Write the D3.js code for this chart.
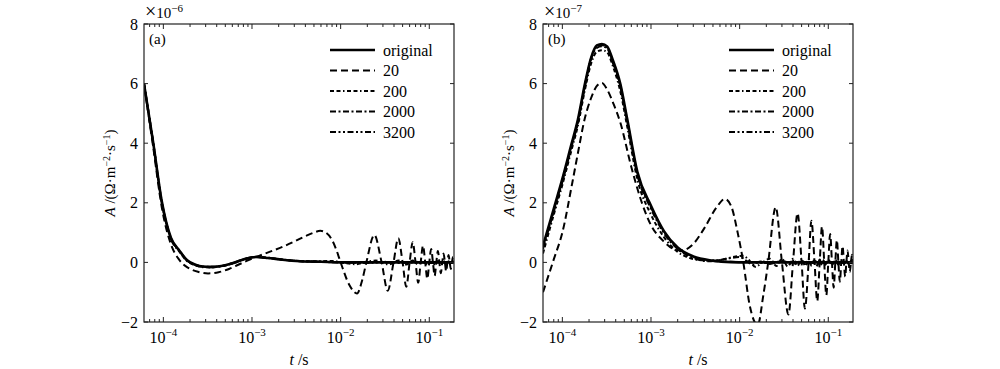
<!DOCTYPE html>
<html><head><meta charset="utf-8">
<script src="https://cdn.jsdelivr.net/npm/d3@7"></script>
<style>
body{margin:0;background:#fff}
text{font-family:"Liberation Serif","Times New Roman",serif;fill:#000}
</style>
</head><body><svg id="c" width="1000" height="369"></svg>
<script>
// ---------- data ----------
const seriesNames = ["original", "20", "200", "2000", "3200"];
const xTickValues = [1e-4, 1e-3, 1e-2, 1e-1];
const xTickExponents = ["−4", "−3", "−2", "−1"];
const yTickValues = [-2, 0, 2, 4, 6, 8];
const yTickLabels = ["−2", "0", "2", "4", "6", "8"];
const panelLabels = ["(a)", "(b)"];
const multiplierExponents = ["−6", "−7"];
const xDomain = [6.05e-5, 0.19];
const yDomain = [-2, 8];

// panel (a), units of 1e-6
const aOriginal = [[6.05e-5,6.0],[7.7e-5,4.0],[9.6e-5,2.05],[1.22e-4,0.82],[1.5e-4,0.42],[1.84e-4,0.08],[2.3e-4,-0.08],[2.8e-4,-0.14],[3.4e-4,-0.15],[4.5e-4,-0.12],[6e-4,-0.03],[8e-4,0.1],[1.1e-3,0.18],[1.5e-3,0.15],[2.2e-3,0.09],[3.5e-3,0.04],[6e-3,0.02],[1e-2,0.0],[0.19,0.0]];
const a20 = [[6.05e-5,6.0],[7.7e-5,3.85],[9.6e-5,1.85],[1.22e-4,0.6],[1.5e-4,0.1],[1.9e-4,-0.18],[2.5e-4,-0.32],[3.2e-4,-0.37],[4.2e-4,-0.33],[5.5e-4,-0.22],[7e-4,-0.08],[9e-4,0.07],[1.2e-3,0.22],[1.6e-3,0.36],[2.2e-3,0.52],[3e-3,0.7],[4e-3,0.88],[5e-3,1.0],[5.9e-3,1.06],[6.8e-3,1.0],[8e-3,0.75],[9e-3,0.4],[1e-2,0.0],[1.25e-2,-0.75],[1.53e-2,-1.04],[1.75e-2,-0.6],[1.95e-2,0.0],[2.4e-2,0.92],[2.9e-2,0.0],[3.4e-2,-0.95],[3.95e-2,0.0],[4.47e-2,0.81],[5e-2,0.0],[5.5e-2,-0.82],[6e-2,0.0],[6.5e-2,0.68],[7e-2,0.0],[7.5e-2,-0.68],[8e-2,0.0],[8.5e-2,0.56],[9e-2,0.0],[9.5e-2,-0.55],[0.1,0.0],[0.105,0.45],[0.11,0.0],[0.115,-0.45],[0.12,0.0],[0.125,0.38],[0.13,0.0],[0.135,-0.36],[0.14,0.0],[0.145,0.3],[0.15,0.0],[0.155,-0.3],[0.16,0.0],[0.165,0.25],[0.17,0.0],[0.175,-0.22],[0.18,0.0],[0.185,0.18],[0.19,0.0]];
const a200 = [[6.05e-5,5.95],[7.7e-5,3.95],[9.6e-5,2.0],[1.22e-4,0.78],[1.5e-4,0.38],[1.84e-4,0.05],[2.3e-4,-0.1],[2.8e-4,-0.16],[3.4e-4,-0.17],[4.5e-4,-0.13],[6e-4,-0.04],[8e-4,0.1],[1.1e-3,0.19],[1.5e-3,0.16],[2.2e-3,0.1],[3.5e-3,0.05],[6e-3,0.04],[8e-3,0.05],[1.1e-2,-0.02],[1.5e-2,-0.06],[2e-2,0.03],[2.5e-2,0.06],[3e-2,-0.02],[3.5e-2,-0.07],[4.5e-2,0.06],[5.5e-2,-0.07],[6.5e-2,0.06],[7.5e-2,-0.07],[8.5e-2,0.06],[9.5e-2,-0.06],[0.105,0.05],[0.115,-0.06],[0.125,0.05],[0.135,-0.05],[0.145,0.05],[0.155,-0.05],[0.165,0.04],[0.175,-0.04],[0.185,0.03],[0.19,0.0]];
const a2000 = [[6.05e-5,6.0],[7.7e-5,4.0],[9.6e-5,2.02],[1.22e-4,0.8],[1.5e-4,0.4],[1.84e-4,0.07],[2.3e-4,-0.09],[2.8e-4,-0.15],[3.4e-4,-0.16],[4.5e-4,-0.12],[6e-4,-0.03],[8e-4,0.1],[1.1e-3,0.18],[1.5e-3,0.15],[2.2e-3,0.09],[3.5e-3,0.04],[6e-3,0.02],[1e-2,0.01],[2e-2,-0.02],[3e-2,0.02],[5e-2,-0.02],[7e-2,0.02],[0.1,-0.02],[0.13,0.02],[0.16,-0.02],[0.19,0.0]];
const a3200 = [[6.05e-5,6.0],[7.7e-5,4.0],[9.6e-5,2.04],[1.22e-4,0.81],[1.5e-4,0.41],[1.84e-4,0.08],[2.3e-4,-0.08],[2.8e-4,-0.14],[3.4e-4,-0.15],[4.5e-4,-0.12],[6e-4,-0.03],[8e-4,0.1],[1.1e-3,0.18],[1.5e-3,0.15],[2.2e-3,0.09],[3.5e-3,0.04],[6e-3,0.02],[1e-2,0.0],[0.19,0.0]];

// panel (b), units of 1e-7
const bOriginal = [[6.05e-5,0.55],[8e-5,1.8],[1e-4,2.8],[1.25e-4,3.9],[1.5e-4,4.8],[1.8e-4,6.0],[2.1e-4,6.85],[2.45e-4,7.28],[2.8e-4,7.33],[3.2e-4,7.25],[3.7e-4,6.8],[4.5e-4,6.0],[5.4e-4,4.8],[7e-4,3.05],[1e-3,1.9],[1.4e-3,1.05],[2e-3,0.5],[3e-3,0.2],[5e-3,0.06],[8e-3,0.01],[1.2e-2,0.0],[0.19,0.0]];
const b20 = [[6.05e-5,-1.0],[8e-5,0.1],[1e-4,1.0],[1.3e-4,2.7],[1.55e-4,3.9],[1.75e-4,4.7],[2.1e-4,5.5],[2.5e-4,5.95],[2.8e-4,6.02],[3.2e-4,5.8],[3.8e-4,5.3],[4.5e-4,4.7],[6e-4,3.2],[8e-4,1.95],[1e-3,1.25],[1.4e-3,0.7],[1.8e-3,0.45],[2.2e-3,0.4],[3e-3,0.62],[4e-3,1.15],[5.5e-3,1.85],[6.8e-3,2.13],[8e-3,1.9],[9.5e-3,1.0],[1.1e-2,0.0],[1.3e-2,-1.45],[1.6e-2,-2.1],[1.85e-2,-1.1],[2.1e-2,0.0],[2.55e-2,1.85],[3e-2,0.0],[3.55e-2,-1.75],[4e-2,0.0],[4.5e-2,1.65],[5e-2,0.0],[5.45e-2,-1.55],[6e-2,0.0],[6.45e-2,1.4],[7e-2,0.0],[7.5e-2,-1.3],[8e-2,0.0],[8.5e-2,1.2],[9e-2,0.0],[9.5e-2,-1.1],[0.1,0.0],[0.105,0.95],[0.11,0.0],[0.115,-0.85],[0.12,0.0],[0.125,0.75],[0.13,0.0],[0.135,-0.65],[0.14,0.0],[0.145,0.55],[0.15,0.0],[0.155,-0.48],[0.16,0.0],[0.165,0.4],[0.17,0.0],[0.175,-0.32],[0.18,0.0],[0.185,0.26],[0.19,0.0]];
const b200 = [[6.05e-5,0.3],[8e-5,1.6],[1e-4,2.6],[1.25e-4,3.7],[1.5e-4,4.6],[1.8e-4,5.8],[2.1e-4,6.65],[2.45e-4,7.07],[2.8e-4,7.12],[3.2e-4,7.05],[3.7e-4,6.6],[4.5e-4,5.75],[5.4e-4,4.55],[7e-4,2.8],[1e-3,1.6],[1.4e-3,0.85],[2e-3,0.35],[2.6e-3,0.17],[3.5e-3,0.08],[5e-3,0.06],[7e-3,0.12],[9e-3,0.2],[1.1e-2,0.22],[1.3e-2,0.05],[1.5e-2,-0.15],[1.8e-2,0.0],[2.2e-2,0.12],[2.6e-2,-0.12],[3e-2,0.12],[3.5e-2,-0.14],[4e-2,0.12],[4.5e-2,-0.12],[5e-2,0.12],[5.5e-2,-0.12],[6e-2,0.12],[6.5e-2,-0.12],[7e-2,0.11],[7.5e-2,-0.11],[8e-2,0.1],[8.5e-2,-0.1],[9e-2,0.1],[9.5e-2,-0.1],[0.1,0.09],[0.11,-0.09],[0.12,0.08],[0.13,-0.08],[0.14,0.07],[0.15,-0.07],[0.16,0.06],[0.17,-0.06],[0.18,0.05],[0.19,0.0]];
const b2000 = [[6.05e-5,0.45],[8e-5,1.7],[1e-4,2.7],[1.25e-4,3.8],[1.5e-4,4.7],[1.8e-4,5.9],[2.1e-4,6.8],[2.45e-4,7.2],[2.8e-4,7.25],[3.2e-4,7.18],[3.7e-4,6.7],[4.5e-4,5.9],[5.4e-4,4.7],[7e-4,2.95],[1e-3,1.8],[1.4e-3,0.98],[2e-3,0.45],[3e-3,0.15],[4.5e-3,0.04],[6e-3,0.08],[8e-3,0.15],[1e-2,0.18],[1.2e-2,0.05],[1.4e-2,-0.08],[1.7e-2,0.03],[2.2e-2,-0.05],[3e-2,0.05],[4e-2,-0.05],[5e-2,0.05],[6e-2,-0.04],[7e-2,0.04],[8e-2,-0.04],[9e-2,0.04],[0.1,-0.04],[0.12,0.03],[0.14,-0.03],[0.16,0.03],[0.18,-0.03],[0.19,0.0]];
const b3200 = [[6.05e-5,0.5],[8e-5,1.75],[1e-4,2.75],[1.25e-4,3.85],[1.5e-4,4.75],[1.8e-4,5.95],[2.1e-4,6.82],[2.45e-4,7.24],[2.8e-4,7.29],[3.2e-4,7.22],[3.7e-4,6.75],[4.5e-4,5.95],[5.4e-4,4.75],[7e-4,3.0],[1e-3,1.85],[1.4e-3,1.02],[2e-3,0.48],[3e-3,0.18],[5e-3,0.05],[8e-3,0.02],[1.2e-2,0.01],[2e-2,-0.02],[4e-2,0.02],[7e-2,-0.02],[0.1,0.02],[0.14,-0.02],[0.19,0.0]];

// ---------- styles ----------
const dashes = [null, "7,4", "4,2.5,4,2.5,1.5,2.5", "6,2.5,2,2.5", "6,2.5,2,2.5,2,2.5"];
const widths = [2.6, 2, 2, 2, 2];

const svg = d3.select("#c");
const panels = [
  {left: 144, right: 454, series: [aOriginal, a20, a200, a2000, a3200]},
  {left: 543, right: 853, series: [bOriginal, b20, b200, b2000, b3200]}
];
const plotTop = 24, plotBottom = 322;

panels.forEach((p, pi) => {
  const x = d3.scaleLog().domain(xDomain).range([p.left, p.right]);
  const y = d3.scaleLinear().domain(yDomain).range([plotBottom, plotTop]);
  const g = svg.append("g");
  const cid = "clip" + pi;
  svg.append("clipPath").attr("id", cid).append("rect")
    .attr("x", p.left).attr("y", plotTop).attr("width", p.right - p.left).attr("height", plotBottom - plotTop);

  const line = d3.line().x(d => x(d[0])).y(d => y(d[1])).curve(d3.curveMonotoneX);
  const lg = g.append("g").attr("clip-path", `url(#${cid})`);
  [4, 3, 2, 1, 0].forEach(i => {
    lg.append("path").datum(p.series[i]).attr("d", line)
      .attr("fill", "none").attr("stroke", "#000").attr("stroke-width", widths[i])
      .attr("stroke-dasharray", dashes[i]).attr("stroke-linejoin", "round");
  });

  g.append("rect").attr("x", p.left).attr("y", plotTop).attr("width", p.right - p.left).attr("height", plotBottom - plotTop)
    .attr("fill", "none").attr("stroke", "#222").attr("stroke-width", 1.2);

  const minor = [];
  for (let e = -5; e <= -1; e++) for (let k = 2; k <= 9; k++) {
    const v = k * Math.pow(10, e);
    if (v > xDomain[0] && v < xDomain[1]) minor.push(v);
  }
  minor.forEach(v => {
    g.append("line").attr("x1", x(v)).attr("x2", x(v)).attr("y1", plotBottom).attr("y2", plotBottom - 3).attr("stroke", "#222");
    g.append("line").attr("x1", x(v)).attr("x2", x(v)).attr("y1", plotTop).attr("y2", plotTop + 3).attr("stroke", "#222");
  });
  xTickValues.forEach((v, i) => {
    g.append("line").attr("x1", x(v)).attr("x2", x(v)).attr("y1", plotBottom).attr("y2", plotBottom - 5).attr("stroke", "#222");
    g.append("line").attr("x1", x(v)).attr("x2", x(v)).attr("y1", plotTop).attr("y2", plotTop + 5).attr("stroke", "#222");
    const t = g.append("text").attr("x", x(v)).attr("y", 343).attr("text-anchor", "middle").attr("font-size", 16);
    t.append("tspan").text("10");
    t.append("tspan").attr("dy", -7).attr("font-size", 11).text(xTickExponents[i]);
  });
  yTickValues.forEach((v, i) => {
    g.append("line").attr("x1", p.left).attr("x2", p.left + 4).attr("y1", y(v)).attr("y2", y(v)).attr("stroke", "#222");
    g.append("line").attr("x1", p.right).attr("x2", p.right - 4).attr("y1", y(v)).attr("y2", y(v)).attr("stroke", "#222");
    g.append("text").attr("x", p.left - 6).attr("y", y(v) + 5.5).attr("text-anchor", "end").attr("font-size", 16).text(yTickLabels[i]);
  });

  const m = g.append("text").attr("x", p.left + 1).attr("y", 18).attr("font-size", 15);
  m.append("tspan").attr("font-size", 20).text("×");
  m.append("tspan").text("10");
  m.append("tspan").attr("dy", -6).attr("font-size", 11).text(multiplierExponents[pi]);

  g.append("text").attr("x", p.left + 5).attr("y", 44).attr("font-size", 15).text(panelLabels[pi]);

  const xt = g.append("text").attr("x", (p.left + p.right) / 2).attr("y", 365).attr("text-anchor", "middle").attr("font-size", 16);
  xt.append("tspan").attr("font-style", "italic").text("t");
  xt.append("tspan").text(" /s");

  const yt = g.append("text").attr("transform", `translate(${p.left - 29},${(plotTop + plotBottom) / 2}) rotate(-90)`)
    .attr("text-anchor", "middle").attr("font-size", 15);
  yt.append("tspan").attr("font-style", "italic").text("A");
  yt.append("tspan").text(" /(Ω·m");
  yt.append("tspan").attr("dy", -5).attr("font-size", 10).text("−2");
  yt.append("tspan").attr("dy", 5).text("·s");
  yt.append("tspan").attr("dy", -5).attr("font-size", 10).text("−1");
  yt.append("tspan").attr("dy", 5).text(")");

  const lx0 = p.left + 186, lx1 = p.left + 231;
  seriesNames.forEach((n, i) => {
    const ly = 50 + i * 20.5;
    g.append("line").attr("x1", lx0).attr("x2", lx1).attr("y1", ly).attr("y2", ly)
      .attr("stroke", "#000").attr("stroke-width", widths[i]).attr("stroke-dasharray", dashes[i]);
    g.append("text").attr("x", lx1 + 8).attr("y", ly + 5.5).attr("font-size", 16).text(n);
  });
});
</script>
</body></html>
